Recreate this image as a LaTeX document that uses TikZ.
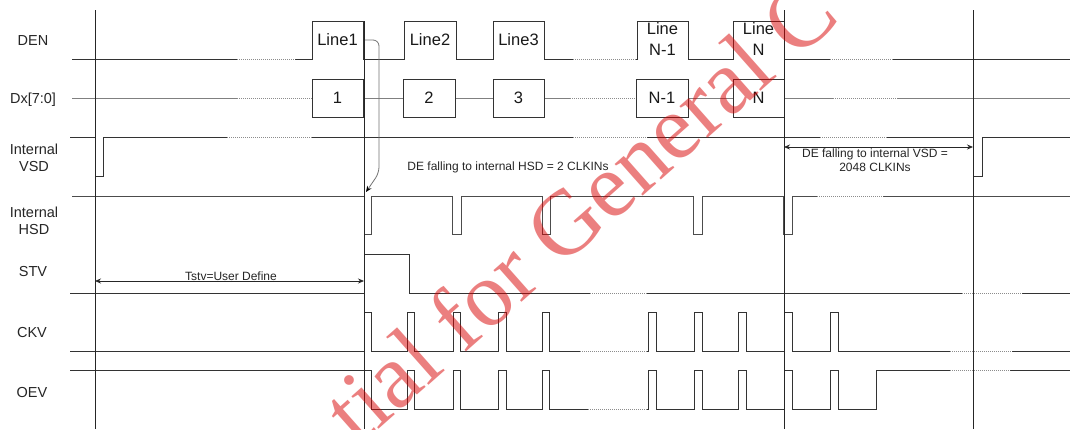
\documentclass[tikz,border=0pt]{standalone}
\usepackage{fontspec}
\setmainfont{Liberation Sans}
\newfontfamily\wmfont{Liberation Serif}
\usetikzlibrary{arrows.meta}
\newcommand\wbreak[3]{%
  \fill[white] (#1,#3-1.6) rectangle (#2,#3+1.6);
  \draw[brk] (#1,#3) -- (#2,#3);}
\begin{document}
\begin{tikzpicture}[x=1pt,y=-1pt,
  sig/.style={draw=black!80, line width=0.9pt},
  lite/.style={draw=black!50, line width=0.9pt},
  vln/.style={draw=black!85, line width=0.9pt},
  brk/.style={draw=black!45, line width=1pt, dash pattern=on 1.2pt off 0.8pt},
  lbl/.style={font=\fontsize{14.5}{17}\selectfont, align=center, text=black!85, inner sep=0pt},
  big/.style={font=\fontsize{16.5}{21}\selectfont, align=center, text=black!90, inner sep=0pt},
  note/.style={font=\fontsize{12}{14}\selectfont, align=center, text=black!85, inner sep=0pt},
  dbox/.style={draw=black!80, fill=white, line width=0.9pt},
  darr/.style={draw=black!85, line width=0.8pt, {Stealth[length=6pt,width=5pt]}-{Stealth[length=6pt,width=5pt]}},
  wm/.style={font=\wmfont\fontsize{92}{92}\selectfont, text=red!85!black, text opacity=0.5, inner sep=0pt}
]
\useasboundingbox (0,0) rectangle (1070,429);
\fill[white] (0,0) rectangle (1070,429);

% ---- labels
\node[lbl] (lDEN) at (33,41) {DEN};
\node[lbl] (lDX)  at (33,100) {Dx[7:0]};
\node[lbl] (lVSD) at (34,158) {Internal\\VSD};
\node[lbl] (lHSD) at (34,221) {Internal\\HSD};
\node[lbl] (lSTV) at (33,272) {STV};
\node[lbl] (lCKV) at (32,333) {CKV};
\node[lbl] (lOEV) at (32,392) {OEV};

% ---- DEN
\draw[sig] (72,59) -- (312,59) -- (312,21) -- (363,21) -- (363,59) -- (404,59) -- (404,21) -- (456,21) -- (456,59)
  -- (493,59) -- (493,21) -- (544,21) -- (544,59) -- (637,59) -- (637,21) -- (688,21) -- (688,59)
  -- (733,59) -- (733,21) -- (784,21) -- (784,59) -- (1070,59);
\node[big] (t1) at (337.5,40) {Line1};
\node[big] (t2) at (430,40) {Line2};
\node[big] (t3) at (518.5,40) {Line3};
\node[big] (tn1) at (662.5,39.5) {Line\\N-1};
\node[big] (tn) at (758.5,39.5) {Line\\N};

% ---- Dx
\draw[lite] (72,98) -- (1070,98);
\wbreak{237}{312}{98}
\wbreak{570}{636}{98}
\wbreak{833}{897}{98}
\draw[dbox] (312,79) rectangle (363,117);
\draw[dbox] (403,79) rectangle (455,117);
\draw[dbox] (493,79) rectangle (544,117);
\draw[dbox] (636,79) rectangle (688,117);
\draw[dbox] (733,79) rectangle (784,117);
\node[big] (d1) at (337.5,98) {1};
\node[big] (d2) at (429,98) {2};
\node[big] (d3) at (518.5,98) {3};
\node[big] (dn1) at (662,98) {N-1};
\node[big] (dn) at (758.5,98) {N};

% ---- VSD
\draw[sig] (70,137) -- (95,137) -- (95,176) -- (103,176) -- (103,137) -- (973,137) -- (973,176) -- (982,176) -- (982,137) -- (1070,137);

% ---- HSD
\draw[sig, draw=black!70] (72,196) foreach \a/\b in {364/371,452/461,542/550,693/702,783/792}
  { -- (\a,196) -- (\a,234) -- (\b,234) -- (\b,196) } -- (1070,196);

% ---- STV
\draw[sig] (70,293) -- (364,293) -- (364,254) -- (409,254) -- (409,293) -- (1070,293);

% ---- CKV
\draw[sig] (70,351) foreach \a/\b in {364/371,407/414,453/460,498/506,542/549,648/656,694/702,738/746,784/792,830/838}
  { -- (\a,351) -- (\a,312) -- (\b,312) -- (\b,351) } -- (1070,351);

% ---- OEV
\draw[sig] (70,370) -- (371,370) -- (371,409) foreach \a/\b in {407/414,453/460,498/506,542/549,648/656,694/702,738/746,784/792,830/838}
  { -- (\a,409) -- (\a,370) -- (\b,370) -- (\b,409) } -- (876,409) -- (876,370) -- (1070,370);

% ---- breaks
\wbreak{237}{295}{59}
\wbreak{573}{636}{59}
\wbreak{830}{893}{59}
\wbreak{227}{312}{137}
\wbreak{573}{647}{137}
\wbreak{820}{887}{137}
\wbreak{817}{883}{196}
\wbreak{590}{647}{293}
\wbreak{962}{1022}{293}
\wbreak{580}{647}{351}
\wbreak{950}{1012}{351}
\wbreak{588}{647}{409}
\wbreak{950}{1010}{370}

% ---- vertical reference lines
\coordinate (v1t) at (95,10);  \coordinate (v1b) at (95,429);
\coordinate (v2t) at (364,21); \coordinate (v2b) at (364,429);
\coordinate (v3t) at (784,10); \coordinate (v3b) at (784,429);
\coordinate (v4t) at (973,10); \coordinate (v4b) at (973,429);
\draw[vln] (v1t) -- (v1b);
\draw[vln] (v2t) -- (v2b);
\draw[vln] (v3t) -- (v3b);
\draw[vln] (v4t) -- (v4b);

% ---- annotations
\coordinate (a0) at (365,40);
\coordinate (a1) at (379,40);
\coordinate (a2) at (379,173);
\coordinate (a3) at (366,192);
\draw[draw=black!55, line width=0.8pt, rounded corners=6pt, -{Stealth[length=6pt,width=5pt,black]}] (a0) -- (a1) -- (a2) -- (a3);
\node[note] (hsdnote) at (508,167) {DE falling to internal HSD = 2 CLKINs};

\coordinate (vs0) at (784,147);
\coordinate (vs1) at (973,147);
\draw[darr] (vs0) -- (vs1);
\node[note] (vsdnote) at (875,160) {DE falling to internal VSD =\\2048 CLKINs};

\coordinate (ts0) at (95,281);
\coordinate (ts1) at (364,281);
\draw[darr] (ts0) -- (ts1);
\node[note] (tstv) at (231,276) {Tstv=User Define};

% ---- watermark
\begin{scope}
\clip (0,0) rectangle (1070,429);
\node[wm, rotate=41.5, anchor=base west] (wmk) at (358,448) {tial for General C};
\end{scope}
\end{tikzpicture}
\end{document}
